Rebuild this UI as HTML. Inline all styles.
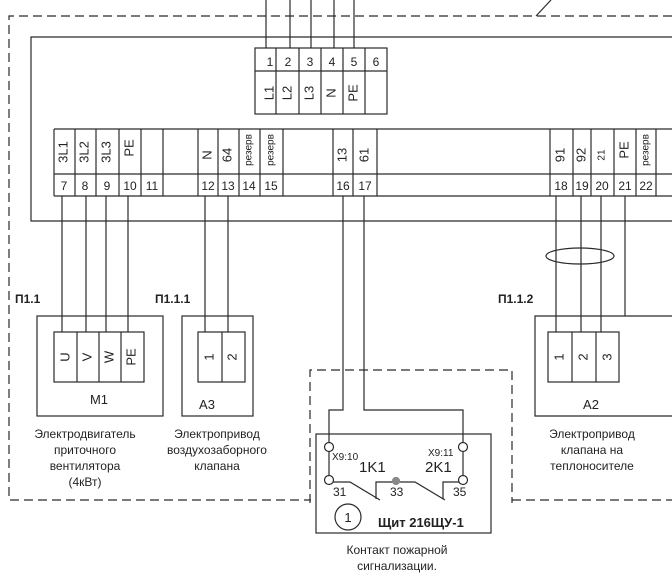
<!DOCTYPE html>
<html><head><meta charset="utf-8"><style>
html,body{margin:0;padding:0;background:#fff;}
svg{display:block;}
text{font-family:"Liberation Sans",sans-serif;fill:#222;}
</style></head><body>
<svg width="672" height="581" viewBox="0 0 672 581" xmlns="http://www.w3.org/2000/svg">
<g stroke="#2a2a2a" stroke-width="1.2" fill="none">
<!-- dashed outline -->
<g stroke-dasharray="9,5">
<path d="M672 16 H9 V500 H311"/>
<path d="M310 503 V370 H512 V503"/>
<path d="M512 500 H672"/>
</g>
<line x1="536" y1="16" x2="551" y2="0"/>
<!-- inner solid rect -->
<path d="M672 37 H31 V221 H672"/>
<!-- top wires -->
<line x1="266" y1="0" x2="266" y2="48"/><line x1="290" y1="0" x2="290" y2="48"/>
<line x1="311" y1="0" x2="311" y2="48"/><line x1="334" y1="0" x2="334" y2="48"/>
<line x1="354" y1="0" x2="354" y2="48"/>
<!-- top block -->
<rect x="255" y="48" width="132" height="66"/>
<line x1="255" y1="71" x2="387" y2="71"/>
<line x1="276" y1="48" x2="276" y2="114"/><line x1="299" y1="48" x2="299" y2="114"/>
<line x1="321" y1="48" x2="321" y2="114"/><line x1="343" y1="48" x2="343" y2="114"/>
<line x1="365" y1="48" x2="365" y2="114"/>
<!-- bottom strip -->
<line x1="54" y1="129" x2="672" y2="129"/>
<line x1="54" y1="174" x2="672" y2="174"/>
<line x1="54" y1="196" x2="672" y2="196"/>
<g>
<line x1="54" y1="129" x2="54" y2="196"/><line x1="75" y1="129" x2="75" y2="196"/>
<line x1="96" y1="129" x2="96" y2="196"/><line x1="119" y1="129" x2="119" y2="196"/>
<line x1="141" y1="129" x2="141" y2="196"/><line x1="163" y1="129" x2="163" y2="196"/>
<line x1="198" y1="129" x2="198" y2="196"/><line x1="218" y1="129" x2="218" y2="196"/>
<line x1="239" y1="129" x2="239" y2="196"/><line x1="260" y1="129" x2="260" y2="196"/>
<line x1="283" y1="129" x2="283" y2="196"/><line x1="333" y1="129" x2="333" y2="196"/>
<line x1="353" y1="129" x2="353" y2="196"/><line x1="377" y1="129" x2="377" y2="196"/>
<line x1="550" y1="129" x2="550" y2="196"/><line x1="573" y1="129" x2="573" y2="196"/>
<line x1="591" y1="129" x2="591" y2="196"/><line x1="614" y1="129" x2="614" y2="196"/>
<line x1="636" y1="129" x2="636" y2="196"/><line x1="656" y1="129" x2="656" y2="196"/>
</g>
<!-- down wires -->
<line x1="62" y1="196" x2="62" y2="332"/><line x1="86" y1="196" x2="86" y2="332"/>
<line x1="106" y1="196" x2="106" y2="332"/><line x1="128" y1="196" x2="128" y2="332"/>
<line x1="205" y1="196" x2="205" y2="332"/><line x1="228" y1="196" x2="228" y2="332"/>
<line x1="556" y1="196" x2="556" y2="332"/><line x1="581" y1="196" x2="581" y2="332"/>
<line x1="601" y1="196" x2="601" y2="332"/><line x1="625" y1="196" x2="625" y2="316"/>
<ellipse cx="580" cy="256" rx="34" ry="8"/>
<path d="M343 196 V410 H329 V443"/>
<path d="M364 196 V410 H463 V443"/>
<!-- M1 -->
<rect x="37" y="316" width="126" height="100"/>
<rect x="54" y="332" width="90" height="50"/>
<line x1="77" y1="332" x2="77" y2="382"/><line x1="99" y1="332" x2="99" y2="382"/><line x1="121" y1="332" x2="121" y2="382"/>
<!-- A3 -->
<rect x="182" y="316" width="71" height="100"/>
<rect x="198" y="332" width="47" height="50"/>
<line x1="222" y1="332" x2="222" y2="382"/>
<!-- A2 -->
<path d="M672 316 H535 V416 H672"/>
<rect x="548" y="332" width="71" height="50"/>
<line x1="572" y1="332" x2="572" y2="382"/><line x1="596" y1="332" x2="596" y2="382"/>
<!-- panel -->
<rect x="316" y="434" width="175" height="99"/>
<circle cx="329" cy="447" r="4.5" fill="#fff"/><circle cx="463" cy="447" r="4.5" fill="#fff"/>
<line x1="329" y1="451" x2="329" y2="476"/><line x1="463" y1="451" x2="463" y2="476"/>
<circle cx="329" cy="480" r="4.5" fill="#fff"/><circle cx="463" cy="480" r="4.5" fill="#fff"/>
<path d="M333 482 H350 L380 500"/>
<path d="M376 499 V482 H415 L445 500"/>
<path d="M443 499 V482 H459"/>
<circle cx="396" cy="481" r="3.5" fill="#888" stroke="#888"/>
<circle cx="348" cy="517" r="13"/>
</g>
<g font-size="12" text-anchor="middle">
<text x="270" y="66">1</text><text x="288" y="66">2</text><text x="310" y="66">3</text><text x="332" y="66">4</text><text x="354" y="66">5</text><text x="376" y="66">6</text>
<g font-size="13">
<text transform="translate(270,93) rotate(-90)" dominant-baseline="middle">L1</text>
<text transform="translate(288,93) rotate(-90)" dominant-baseline="middle">L2</text>
<text transform="translate(310,93) rotate(-90)" dominant-baseline="middle">L3</text>
<text transform="translate(332,93) rotate(-90)" dominant-baseline="middle">N</text>
<text transform="translate(354,93) rotate(-90)" dominant-baseline="middle">PE</text>
</g>
<text x="64" y="190">7</text><text x="85" y="190">8</text><text x="107" y="190">9</text><text x="130" y="190">10</text><text x="152" y="190">11</text>
<text x="208" y="190">12</text><text x="228" y="190">13</text><text x="249" y="190">14</text><text x="271" y="190">15</text>
<text x="343" y="190">16</text><text x="365" y="190">17</text>
<text x="561" y="190">18</text><text x="582" y="190">19</text><text x="602" y="190">20</text><text x="625" y="190">21</text><text x="646" y="190">22</text>
<g font-size="13">
<text transform="translate(64,152) rotate(-90)" dominant-baseline="middle">3L1</text>
<text transform="translate(85,152) rotate(-90)" dominant-baseline="middle">3L2</text>
<text transform="translate(107,152) rotate(-90)" dominant-baseline="middle">3L3</text>
<text transform="translate(130,148) rotate(-90)" dominant-baseline="middle">PE</text>
<text transform="translate(208,155) rotate(-90)" dominant-baseline="middle">N</text>
<text transform="translate(228,155) rotate(-90)" dominant-baseline="middle">64</text>
<text transform="translate(343,155) rotate(-90)" dominant-baseline="middle">13</text>
<text transform="translate(365,155) rotate(-90)" dominant-baseline="middle">61</text>
<text transform="translate(561,155) rotate(-90)" dominant-baseline="middle">91</text>
<text transform="translate(582,155) rotate(-90)" dominant-baseline="middle">92</text>
<text transform="translate(625,150) rotate(-90)" dominant-baseline="middle">PE</text>
</g>
<text transform="translate(602,155) rotate(-90)" dominant-baseline="middle" font-size="10">21</text>
<g font-size="10">
<text transform="translate(249,150) rotate(-90)" dominant-baseline="middle">резерв</text>
<text transform="translate(271,150) rotate(-90)" dominant-baseline="middle">резерв</text>
<text transform="translate(646,150) rotate(-90)" dominant-baseline="middle">резерв</text>
</g>
<g font-size="13">
<text transform="translate(66,357) rotate(-90)" dominant-baseline="middle">U</text>
<text transform="translate(88,357) rotate(-90)" dominant-baseline="middle">V</text>
<text transform="translate(110,357) rotate(-90)" dominant-baseline="middle">W</text>
<text transform="translate(132,357) rotate(-90)" dominant-baseline="middle">PE</text>
<text transform="translate(210,357) rotate(-90)" dominant-baseline="middle">1</text>
<text transform="translate(233,357) rotate(-90)" dominant-baseline="middle">2</text>
<text transform="translate(560,357) rotate(-90)" dominant-baseline="middle">1</text>
<text transform="translate(584,357) rotate(-90)" dominant-baseline="middle">2</text>
<text transform="translate(608,357) rotate(-90)" dominant-baseline="middle">3</text>
</g>
<text x="99" y="404" font-size="13">M1</text>
<text x="207" y="409" font-size="13">А3</text>
<text x="591" y="409" font-size="13">А2</text>
<text x="85" y="438">Электродвигатель</text><text x="85" y="454">приточного</text><text x="85" y="470">вентилятора</text><text x="85" y="486">(4кВт)</text>
<text x="217" y="438">Электропривод</text><text x="217" y="454">воздухозаборного</text><text x="217" y="470">клапана</text>
<text x="592" y="438">Электропривод</text><text x="592" y="454">клапана на</text><text x="592" y="470">теплоносителе</text>
<text x="397" y="554">Контакт пожарной</text><text x="397" y="570">сигнализации.</text>
<text x="348" y="522" font-size="13">1</text>
</g>
<g font-size="12" font-weight="bold">
<text x="15" y="303">П1.1</text><text x="155" y="303">П1.1.1</text><text x="498" y="303">П1.1.2</text>
<text x="378" y="527" font-size="13">Щит 216ЩУ-1</text>
</g>
<g font-size="10">
<text x="332" y="460">X9:10</text><text x="428" y="456">X9:11</text>
</g>
<g font-size="12">
<text x="333" y="496">31</text><text x="390" y="496">33</text><text x="453" y="496">35</text>
</g>
<g font-size="15">
<text x="359" y="472">1K1</text><text x="425" y="472">2K1</text>
</g>
</svg>
</body></html>
